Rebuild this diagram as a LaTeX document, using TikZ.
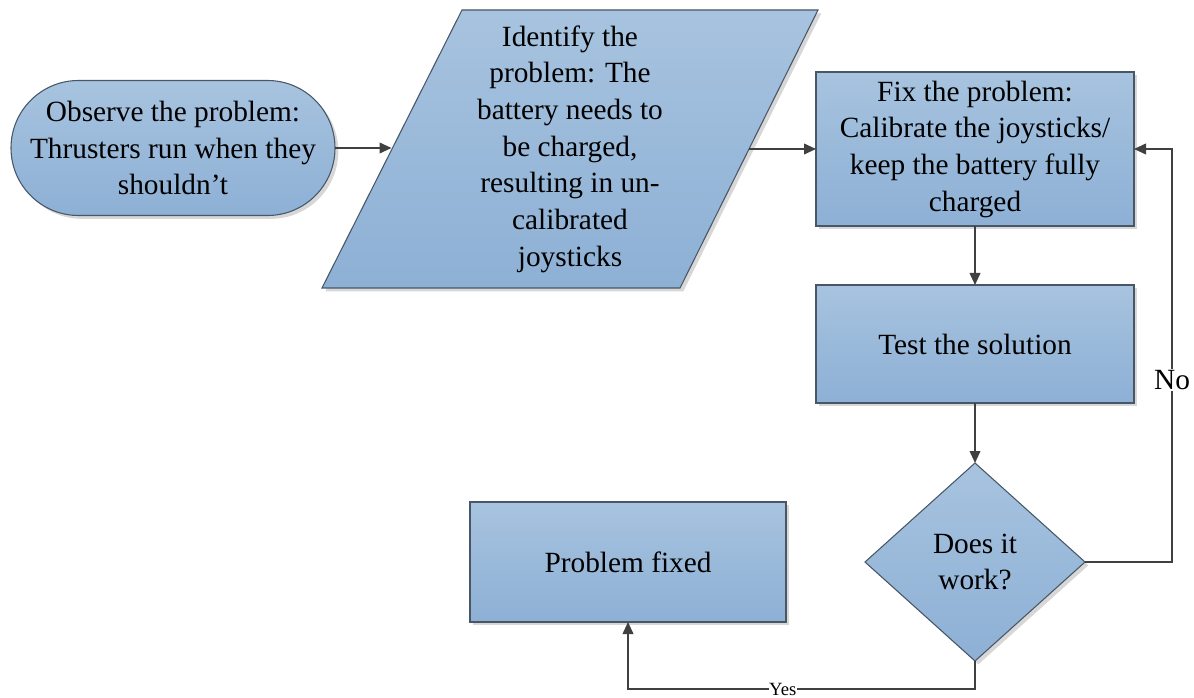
\documentclass[tikz,border=0pt]{standalone}
\usepackage{fontspec}
\setmainfont{Liberation Serif}
\newfontfamily\tnr{Liberation Serif}
\usetikzlibrary{shapes.geometric,shapes.misc,shadows,arrows.meta,calc}
\definecolor{fillTop}{RGB}{167,195,223}
\definecolor{fillBot}{RGB}{141,176,213}
\definecolor{edgecol}{RGB}{72,86,102}
\definecolor{wire}{RGB}{64,64,64}
\definecolor{shadowcol}{RGB}{215,215,215}
\tikzset{
  blkshape/.style={draw=edgecol, line width=0.8pt, top color=fillTop, bottom color=fillBot,
    general shadow={shadow xshift=2.5pt, shadow yshift=-2.5pt, fill=shadowcol}},
  blk/.style={blkshape, align=center, inner sep=0pt, outer sep=0pt, font=\tnr\fontsize{22}{27.5}\selectfont},
  txt/.style={align=center, inner sep=0pt, outer sep=0pt, font=\tnr\fontsize{22}{27.5}\selectfont},
  conn/.style={draw=wire, line width=1.3pt, -{Triangle[length=9pt,width=8pt]}},
  lblbig/.style={fill=white, inner sep=1pt, font=\tnr\fontsize{22}{26}\selectfont},
  lblsmall/.style={fill=white, inner sep=0.5pt, font=\tnr\fontsize{14}{16}\selectfont},
}
\begin{document}
\begin{tikzpicture}[x=0.75pt,y=-0.75pt]
\useasboundingbox (0,0) rectangle (1194,698);
% terminator
\node[blk, rounded rectangle, minimum width=232.5pt, minimum height=101.25pt] (obs) at (173,148)
  {Observe the problem:\\Thrusters run when they\\shouldn’t};
% parallelogram
\path[blkshape] (462,10) -- (818,10) -- (680,288) -- (322,288) -- cycle;
\node[txt, minimum width=267.75pt, minimum height=208.5pt] (ident) at (570,149)
  {Identify the\\problem: The\\battery needs to\\be charged,\\resulting in un-\\calibrated\\joysticks};
% fix
\node[blk, rectangle, minimum width=238.5pt, minimum height=115.5pt] (fix) at (975,149)
  {Fix the problem:\\Calibrate the joysticks/\\keep the battery fully\\charged};
% test
\node[blk, rectangle, minimum width=238.5pt, minimum height=88.5pt] (test) at (975,344)
  {Test the solution};
% decision
\node[blk, diamond, minimum width=165pt, minimum height=148.5pt] (dec) at (975,562)
  {Does it\\work?};
% fixed
\node[blk, rectangle, minimum width=237pt, minimum height=90pt] (fixed) at (628,562)
  {Problem fixed};
% connectors
\draw[conn] (obs.east) -- (obs.east -| ident.west);
\draw[conn] (ident.east) -- (fix.west);
\draw[conn] (fix.south) -- (test.north);
\draw[conn] (test.south) -- (dec.north);
\coordinate (nc) at ($(dec.east)+(87,0)$);
\draw[conn] (dec.east) -- (nc) |- node[lblbig, pos=0.22]{No} (fix.east);
\coordinate (yc) at ($(dec.south)+(0,28)$);
\draw[conn] (dec.south) -- (yc) -| node[lblsmall, pos=0.277]{Yes} (fixed.south);
\end{tikzpicture}
\end{document}
